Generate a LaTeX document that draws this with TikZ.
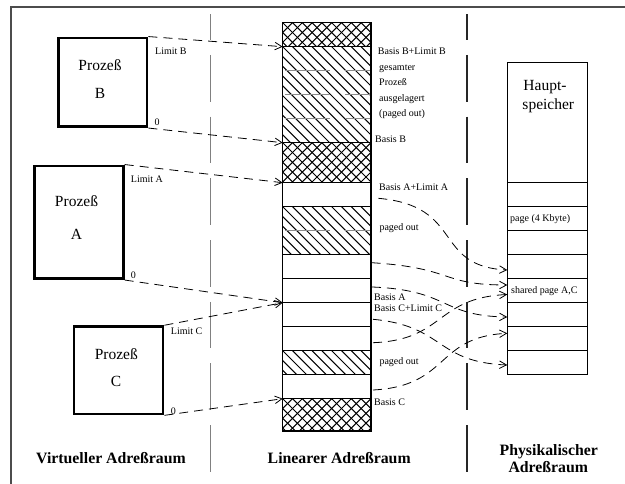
\documentclass[tikz,border=0pt]{standalone}
\usepackage{fontspec}
\setmainfont{Liberation Serif}
\usetikzlibrary{arrows.meta}

% diagonal hatching of one cell: corners (x1,y1) (x2,y2)
\newcommand\hatchcell[4]{%
  \begin{scope}
    \clip (#1,#2) rectangle (#3,#4);
    \foreach \k in {-12,...,10}
      \draw[hatchline] ({#1+\k*9.8},#2) -- ++(130,130);
  \end{scope}}
% cross hatching of one cell
\newcommand\crosscell[4]{%
  \begin{scope}
    \clip (#1,#2) rectangle (#3,#4);
    \foreach \k in {-12,...,10}
      \draw[hatchline] ({#1+\k*9.8},#2) -- ++(130,130);
    \foreach \k in {0,...,16}
      \draw[hatchline] ({#1+\k*9.8},#2) -- ++(-130,130);
  \end{scope}}

\tikzset{
  hatchline/.style={line width=1pt, black},
  greyline/.style={line width=1.1pt, black!45},
  cellline/.style={line width=1.2pt, black},
  procbox/.style={draw, line width=2.8pt, inner sep=0pt},
  divider/.style={line width=1.3pt, dash pattern=on 46.7pt off 15pt, dash phase=21pt},
  conn/.style={line width=0.8pt, dash pattern=on 9pt off 6pt,
               -{Straight Barb[length=7pt,width=7.5pt]}},
  lbl/.style={font=\fontsize{10}{12}\selectfont, inner sep=0pt},
  big/.style={font=\fontsize{15.5}{18}\selectfont, inner sep=0pt},
  title/.style={font=\fontsize{15.8}{18}\selectfont\bfseries, inner sep=0pt},
}

\begin{document}
\begin{tikzpicture}[x=1pt,y=-1pt]
\useasboundingbox (0,0) rectangle (625,484);

% outer frame (top and left edges)
\draw[line width=1.2pt, black!70] (11,484) -- (11,7) -- (625,7);

% column dividers
\draw[divider, black!50] (210.7,14.3) -- (210.7,471.7);
\draw[divider, black!85] (467,14.3) -- (467,471.7);

% ---------------- processes (virtual address space)
\node[procbox, minimum width=88.3pt, minimum height=88.7pt] (procB) at (102.8,82.3) {};
\node[procbox, minimum width=88.6pt, minimum height=112.7pt] (procA) at (79,222.3) {};
\node[procbox, minimum width=89pt, minimum height=87.3pt] (procC) at (118.5,370.3) {};

\node[big, anchor=base] (procBt) at (100,71) {Prozeß};
\node[big, anchor=base] (procBn) at (100,98.3) {B};
\node[big, anchor=base] (procAt) at (76.5,206.7) {Prozeß};
\node[big, anchor=base] (procAn) at (76.5,239.3) {A};
\node[big, anchor=base] (procCt) at (116.3,359.3) {Prozeß};
\node[big, anchor=base] (procCn) at (116,386.7) {C};

\node[lbl, anchor=base west] (limB) at (155,54.3) {Limit B};
\node[lbl, anchor=base west] (zeroB) at (154.5,126) {0};
\node[lbl, anchor=base west] (limA) at (130.7,182.7) {Limit A};
\node[lbl, anchor=base west] (zeroA) at (130.7,278.7) {0};
\node[lbl, anchor=base west] (limC) at (170.7,335) {Limit C};
\node[lbl, anchor=base west] (zeroC) at (170.7,414) {0};

% ---------------- linear address space
\crosscell{282.7}{22.7}{371}{46.7}
\hatchcell{282.7}{46.7}{371}{142.7}
\crosscell{282.7}{142.7}{371}{182.7}
\hatchcell{282.7}{206.7}{371}{254.7}
\hatchcell{282.7}{350.7}{371}{374.7}
\crosscell{282.7}{398.7}{371}{431}

\foreach \y in {70.7,94.7,118.7,230.7} {
  \draw[greyline] (285,\y) -- (330,\y);
  \draw[greyline] (345,\y) -- (371,\y);
}
\foreach \y in {46.7,142.7,182.7,206.7,254.7,278.7,302.7,326.7,350.7,374.7,398.7}
  \draw[cellline] (282.7,\y) -- (371,\y);
\draw[cellline] (282.7,22.7) rectangle (371,431);

\coordinate (linBlim) at (282.7,46.7);
\coordinate (linBbase) at (282.7,142.7);
\coordinate (linAlim) at (282.7,182.7);
\coordinate (linAbase) at (282.7,302.7);
\coordinate (linCbase) at (282.7,398.7);

\node[lbl, anchor=base west] (tBBL) at (377.7,55) {Basis B+Limit B};
\node[lbl, anchor=base west] (tges) at (379,70.5) {gesamter};
\node[lbl, anchor=base west] (tpro) at (379,86) {Prozeß};
\node[lbl, anchor=base west] (taus) at (379,101.5) {ausgelagert};
\node[lbl, anchor=base west] (tpgo) at (379,117) {(paged out)};
\node[lbl, anchor=base west] (tBB) at (375,142.7) {Basis B};
\node[lbl, anchor=base west] (tBAL) at (379,191) {Basis A+Limit A};
\node[lbl, anchor=base west] (tpo1) at (379.3,230.7) {paged out};
\node[lbl, anchor=base west] (tBA) at (374,300.7) {Basis A};
\node[lbl, anchor=base west] (tBCL) at (374,311.7) {Basis C+Limit C};
\node[lbl, anchor=base west] (tpo2) at (379.3,365) {paged out};
\node[lbl, anchor=base west] (tBC) at (374,406) {Basis C};

% ---------------- physical address space
\draw[cellline] (507.3,62.3) rectangle (587.3,374.7);
\foreach \y in {182.7,206.7,230.7,254.7,278.7,302.7,326.7,350.7}
  \draw[cellline] (507.3,\y) -- (587.3,\y);
\node[big, anchor=base] (haupt) at (545,90.5) {Haupt-};
\node[big, anchor=base] (speich) at (548.3,110) {speicher};
\node[lbl, anchor=west] (pg) at (510,218.7) {page (4 Kbyte)};
\node[lbl, anchor=west] (shpg) at (511,290.7) {shared page A,C};

% ---------------- mappings virtual -> linear
\draw[conn] (procB.north east) -- (linBlim);
\draw[conn] (procB.south east) -- (linBbase);
\draw[conn] (procA.north east) -- (linAlim);
\draw[conn] (procA.south east) -- (linAbase);
\draw[conn] (procC.north east) -- (linAbase);
\draw[conn] (procC.south east) -- (linCbase);

% ---------------- mappings linear -> physical
\coordinate (l1) at (378.3,198.3);
\coordinate (l2) at (371.7,262.7);
\coordinate (l3) at (372,287);
\coordinate (l4) at (373,319.3);
\coordinate (l5) at (373,342.7);
\coordinate (l6) at (373,390);
\coordinate (p1) at (507.3,270);
\coordinate (p2) at (507.3,285);
\coordinate (p3) at (507.3,317);
\coordinate (p4) at (507.3,365);
\coordinate (p5) at (507.3,294.5);
\coordinate (p6) at (507.3,333.3);
\draw[conn] (l1) .. controls (465,206) and (432,266) .. (p1);
\draw[conn] (l2) .. controls (455,268) and (440,285) .. (p2);
\draw[conn] (l3) .. controls (450,290) and (440,316) .. (p3);
\draw[conn] (l4) .. controls (445,326) and (435,362) .. (p4);
\draw[conn] (l5) .. controls (445,340) and (435,298) .. (p5);
\draw[conn] (l6) .. controls (450,386) and (435,337) .. (p6);

% ---------------- column titles
\node[title, anchor=base] (ttlV) at (111,463) {Virtueller Adreßraum};
\node[title, anchor=base] (ttlL) at (339.2,463) {Linearer Adreßraum};
\node[title, anchor=base] (ttlP1) at (548.8,455.7) {Physikalischer};
\node[title, anchor=base] (ttlP2) at (548.3,472.4) {Adreßraum};
\end{tikzpicture}
\end{document}
